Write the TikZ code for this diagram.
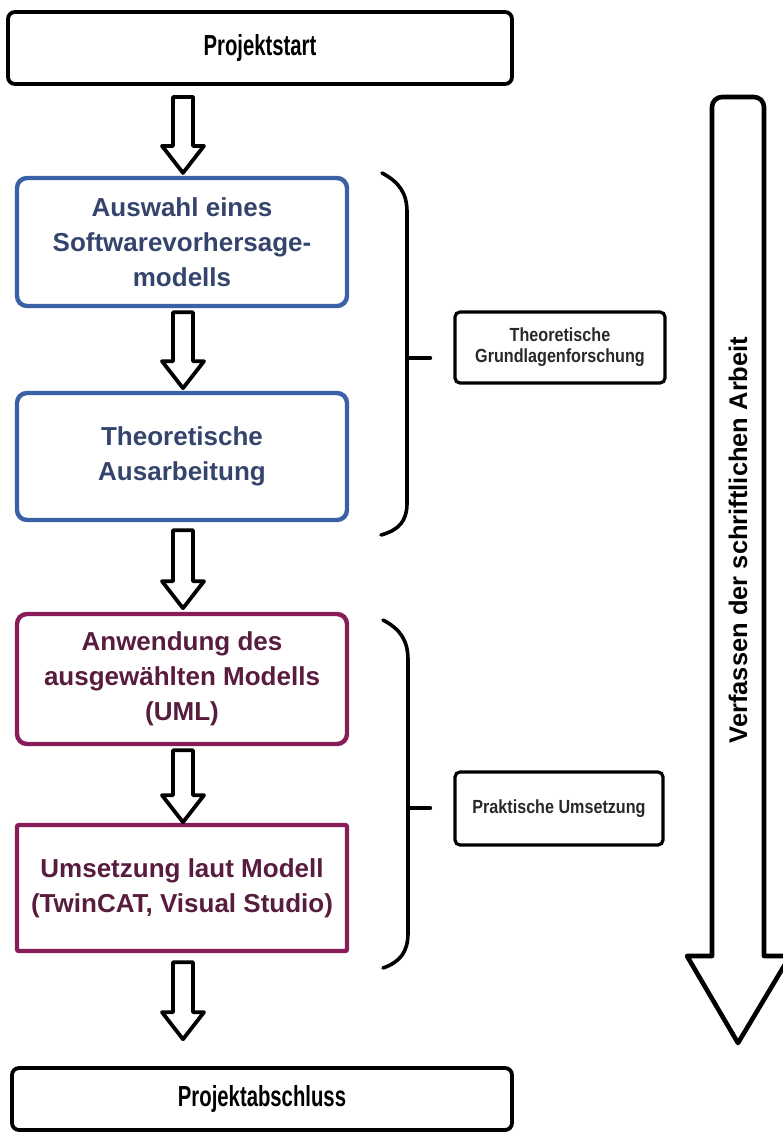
\documentclass[tikz,border=0pt]{standalone}
\usepackage{fontspec}
\setmainfont{Liberation Sans}
\newfontfamily\condfont[FakeStretch=0.7]{Liberation Sans}
\newfontfamily\smallcond[FakeStretch=0.85]{Liberation Sans}
\usetikzlibrary{calc}
\definecolor{bline}{RGB}{58,96,165}
\definecolor{btext}{RGB}{52,68,108}
\definecolor{pline}{RGB}{135,28,88}
\definecolor{ptext}{RGB}{88,28,62}
\tikzset{
  hlen/.store in=\hlen, hlen=76,
  hollowarrow/.pic={\draw[line width=3.8pt, line join=round, fill=white]
    (-10,0) -- (10,0) -- (10,{\hlen-27}) -- (21,{\hlen-27}) -- (0,\hlen) -- (-21,{\hlen-27}) -- (-10,{\hlen-27}) -- cycle;},
  titlebox/.style={draw=black, line width=3.8pt, rounded corners=7pt, inner sep=0pt, align=center,
    font=\condfont\bfseries\fontsize{29}{32}\selectfont},
  bluebox/.style={draw=bline, line width=4.4pt, rounded corners=10pt, inner sep=0pt, align=center,
    minimum width=330, text=btext, font=\bfseries\fontsize{26}{35}\selectfont},
  purplebox/.style={bluebox, draw=pline, text=ptext},
  notebox/.style={draw=black, line width=3.2pt, rounded corners=5pt, inner sep=0pt, align=center,
    text={rgb,255:red,40;green,40;blue,40}, font=\smallcond\bfseries\fontsize{19}{21}\selectfont},
  bracestyle/.style={draw=black, line width=3.6pt, line cap=round, line join=round},
}
\begin{document}
\begin{tikzpicture}[x=1pt,y=-1pt]
\useasboundingbox (0,0) rectangle (783,1135);
% main column
\node[titlebox, minimum width=504, minimum height=72] (start) at (260,48) {Projektstart};
\node[bluebox, minimum height=128] (b1) at (182,242) {Auswahl eines\\Softwarevorhersage-\\modells};
\node[bluebox, minimum height=127] (b2) at (182,456.5) {Theoretische\\Ausarbeitung};
\node[purplebox, minimum height=130] (p1) at (182,679) {Anwendung des\\ausgewählten Modells\\(UML)};
\node[purplebox, rounded corners=2pt, minimum height=126] (p2) at (182,888) {Umsetzung laut Modell\\(TwinCAT, Visual Studio)};
\node[titlebox, minimum width=500, minimum height=62] (end) at (262,1099) {Projektabschluss};
% hollow arrows
\pic at ($(b1.north |- start.south)+(1,11)$) {hollowarrow};
\pic at ($(b1.south)+(1,4)$) {hollowarrow};
\pic[hlen=78] at ($(b2.south)+(1,8)$) {hollowarrow};
\pic[hlen=72] at ($(p1.south)+(1,4)$) {hollowarrow};
\pic[hlen=77] at ($(p2.south)+(1,9)$) {hollowarrow};
% notes
\node[notebox, minimum width=210, minimum height=71] (s1) at (560,347.5) {Theoretische\\Grundlagenforschung};
\node[notebox, minimum width=208, minimum height=73] (s2) at (559,808.5) {Praktische Umsetzung};
% braces
\coordinate (m1) at (407,358);
\coordinate (m2) at (408,808);
\draw[bracestyle] (382,173) .. controls (399,182) and (407,193) .. (407,212) -- (m1) -- (407,503)
  .. controls (407,521) and (399,530) .. (381,535);
\draw[bracestyle] (m1) -- ($(m1 -| s1.west)+(-23,0)$);
\draw[bracestyle] (383,620) .. controls (400,629) and (408,640) .. (408,660) -- (m2) -- (408,933)
  .. controls (408,952) and (400,962) .. (383,968);
\draw[bracestyle] (m2) -- ($(m2 -| s2.west)+(-23,0)$);
% big arrow
\draw[line width=4.6pt, line join=round, fill=white]
  (687,956) -- (712,956) [rounded corners=10pt] -- (712,97) -- (764,97) [sharp corners] -- (764,956) -- (790,956) -- (738,1043) -- cycle;
\node[rotate=90, font=\bfseries\fontsize{25.5}{30}\selectfont] (bigtext) at (738,540) {Verfassen der schriftlichen Arbeit};
\end{tikzpicture}
\end{document}
